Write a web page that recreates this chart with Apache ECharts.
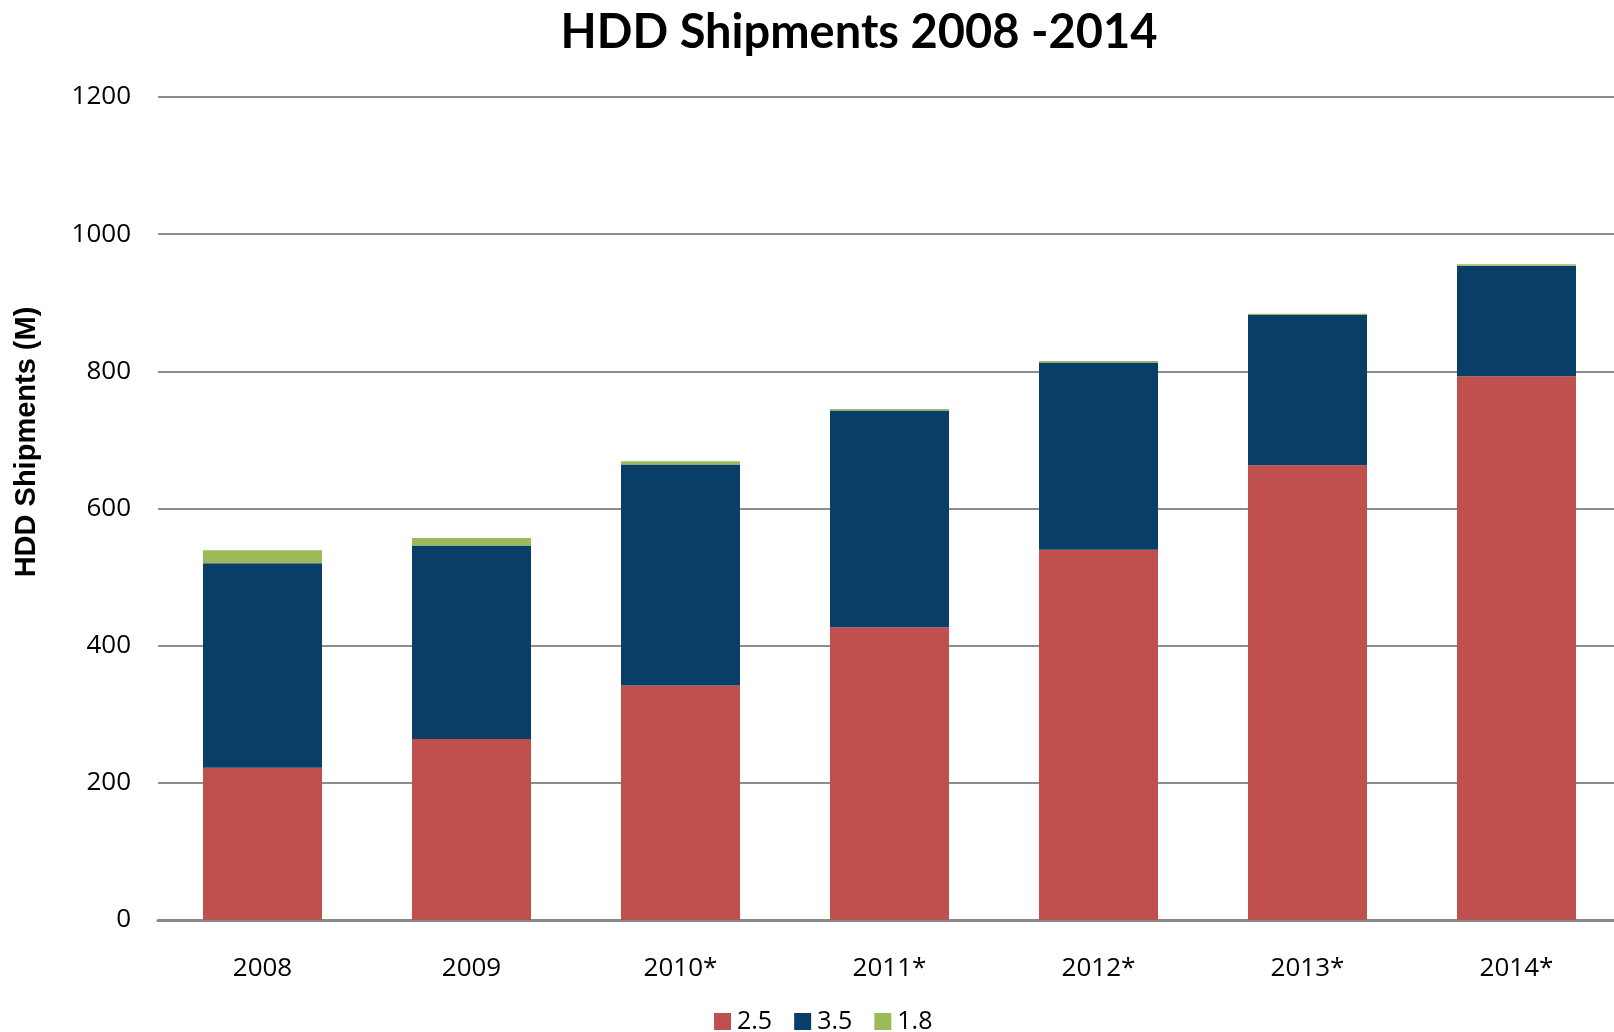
<!DOCTYPE html>
<html>
<head>
<meta charset="utf-8">
<script src="https://cdn.jsdelivr.net/npm/echarts@6/dist/echarts.min.js"></script>
<style>
  html, body { margin: 0; padding: 0; background: #fff; overflow: hidden; }
  #main { width: 1621px; height: 1032px; }
</style>
</head>
<body>
<div id="main"></div>
<script>
var years = ['2008', '2009', '2010*', '2011*', '2012*', '2013*', '2014*'];
var s25 = [222, 264, 342, 427, 540, 663, 793];
var s35 = [298, 282, 322, 316, 273, 219, 161];
var s18 = [19, 11, 5, 2, 2, 2, 2];
var yTicks = [0, 200, 400, 600, 800, 1000, 1200];

var chartDom = document.getElementById('main');
var myChart = echarts.init(chartDom);
var option;

option = {
  animation: false,
  title: {
    text: 'HDD Shipments 2008 -2014',
    left: 854,
    top: 4,
    textAlign: 'center',
    textStyle: {
      fontFamily: 'Lato',
      fontWeight: 'bold',
      fontSize: 47,
      color: '#000'
    }
  },
  graphic: [
    {
      type: 'text',
      x: 27,
      y: 442,
      rotation: Math.PI / 2,
      style: {
        text: 'HDD Shipments (M)',
        font: 'bold 29px "Liberation Sans", Arial, sans-serif',
        fill: '#000',
        textAlign: 'center',
        textVerticalAlign: 'middle'
      }
    }
  ],
  legend: {
    left: 709,
    top: 1004,
    itemWidth: 17,
    itemHeight: 17,
    itemGap: 22,
    icon: 'rect',
    textStyle: {
      fontFamily: 'Open Sans',
      fontSize: 25,
      color: '#000',
      padding: [0, 0, 0, 1]
    },
    data: ['2.5', '3.5', '1.8']
  },
  grid: {
    left: 158,
    top: 97,
    right: 0,
    bottom: 112,
    containLabel: false
  },
  xAxis: {
    type: 'category',
    data: years,
    axisTick: { show: false },
    axisLine: { lineStyle: { color: '#888', width: 3 } },
    axisLabel: {
      margin: 36,
      fontFamily: 'Open Sans',
      fontSize: 26,
      color: '#000'
    }
  },
  yAxis: {
    type: 'value',
    min: yTicks[0],
    max: yTicks[yTicks.length - 1],
    interval: 200,
    axisLine: { show: false },
    axisTick: { show: false },
    axisLabel: {
      margin: 27,
      fontFamily: 'Open Sans',
      fontSize: 26,
      color: '#000',
      formatter: function (v) { return String(v); }
    },
    splitLine: { lineStyle: { color: '#8c8c8c', width: 2 } }
  },
  series: [
    { name: '2.5', type: 'bar', stack: 'hdd', data: s25, barWidth: 119, itemStyle: { color: '#C0504D' } },
    { name: '3.5', type: 'bar', stack: 'hdd', data: s35, barWidth: 119, itemStyle: { color: '#093E69' } },
    { name: '1.8', type: 'bar', stack: 'hdd', data: s18, barWidth: 119, itemStyle: { color: '#9BBB59' } }
  ]
};

myChart.setOption(option);
</script>
</body>
</html>
